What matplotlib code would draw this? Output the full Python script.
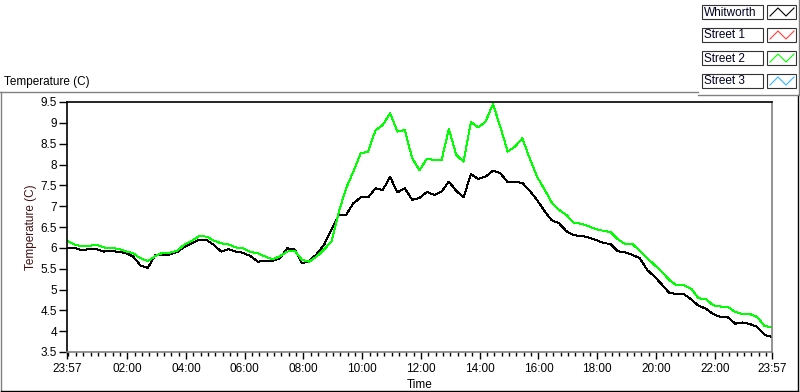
import numpy as np
import matplotlib
matplotlib.use('Agg')
import matplotlib.pyplot as plt
from matplotlib.lines import Line2D
from matplotlib.patches import Rectangle
from matplotlib.ticker import FormatStrFormatter

# temperatures (C), one reading every 15 minutes starting at 23:57
whitworth = [6.00, 6.00, 5.94, 5.97, 5.97, 5.91, 5.93, 5.90, 5.88, 5.79,
             5.58, 5.52, 5.82, 5.83, 5.84, 5.90, 6.02, 6.11, 6.20, 6.19,
             6.07, 5.91, 5.97, 5.91, 5.88, 5.80, 5.67, 5.68, 5.69, 5.75,
             5.99, 5.96, 5.63, 5.68, 5.85, 6.07, 6.44, 6.79, 6.79, 7.07,
             7.21, 7.21, 7.43, 7.39, 7.70, 7.33, 7.43, 7.15, 7.20, 7.34,
             7.27, 7.35, 7.59, 7.37, 7.21, 7.77, 7.65, 7.71, 7.85, 7.79,
             7.58, 7.58, 7.56, 7.37, 7.15, 6.89, 6.66, 6.59, 6.40, 6.30,
             6.29, 6.25, 6.19, 6.12, 6.09, 5.92, 5.89, 5.83, 5.75, 5.47,
             5.31, 5.12, 4.92, 4.89, 4.89, 4.76, 4.61, 4.54, 4.41, 4.34,
             4.33, 4.18, 4.21, 4.17, 4.10, 3.91, 3.86]
street_2 = [6.17, 6.08, 6.04, 6.04, 6.08, 6.01, 5.99, 5.98, 5.92, 5.87,
            5.75, 5.68, 5.80, 5.88, 5.88, 5.93, 6.08, 6.17, 6.28, 6.27,
            6.17, 6.11, 6.08, 6.01, 5.99, 5.90, 5.87, 5.79, 5.72, 5.80,
            5.91, 5.93, 5.71, 5.67, 5.79, 5.96, 6.15, 6.85, 7.43, 7.83,
            8.27, 8.31, 8.82, 8.95, 9.23, 8.79, 8.83, 8.15, 7.86, 8.14,
            8.11, 8.10, 8.85, 8.23, 8.07, 9.02, 8.89, 9.03, 9.45, 8.91,
            8.31, 8.43, 8.63, 8.15, 7.71, 7.41, 7.09, 6.91, 6.79, 6.60,
            6.58, 6.52, 6.45, 6.41, 6.38, 6.21, 6.09, 6.09, 5.93, 5.75,
            5.59, 5.43, 5.23, 5.10, 5.10, 5.02, 4.79, 4.77, 4.62, 4.59,
            4.58, 4.46, 4.41, 4.41, 4.34, 4.12, 4.10]

series_names = ['Whitworth', 'Street 1', 'Street 2', 'Street 3']
series_colors = ['#000000', '#ff3c3c', '#00ff00', '#33b8ff']

tick_hours = [-0.05, 2, 4, 6, 8, 10, 12, 14, 16, 18, 20, 22, 23.95]
tick_labels = ['23:57', '02:00', '04:00', '06:00', '08:00', '10:00', '12:00',
               '14:00', '16:00', '18:00', '20:00', '22:00', '23:57']
y_ticks = [3.5, 4, 4.5, 5, 5.5, 6, 6.5, 7, 7.5, 8, 8.5, 9, 9.5]

plt.rcParams['font.family'] = ['Liberation Sans', 'DejaVu Sans']

W, H = 800, 392
def fx(px):
    return px / W
def fy(py):
    return 1 - py / H

fig = plt.figure(figsize=(8, 3.92), dpi=100)
fig.patch.set_facecolor('white')

ax = fig.add_axes([fx(67), fy(352), (772 - 67) / W, (352 - 102) / H])
hours = -0.05 + 0.25 * np.arange(len(whitworth))
ax.plot(hours, whitworth, color=series_colors[0], lw=0.7, antialiased=False)
ax.plot(hours, street_2, color=series_colors[2], lw=0.7, antialiased=False)

ax.set_xlim(-0.05, 23.95)
ax.set_ylim(3.5, 9.5)
ax.set_xticks(tick_hours)
ax.set_xticklabels(tick_labels)
ax.set_xticks(np.arange(0, 24, 0.25), minor=True)
ax.set_yticks(y_ticks)
ax.yaxis.set_major_formatter(FormatStrFormatter('%g'))
ax.tick_params(axis='x', which='major', length=5, width=1, pad=3, labelsize=8.5)
ax.tick_params(axis='x', which='minor', length=3, width=1)
ax.tick_params(axis='y', which='major', length=6, width=1, pad=1, labelsize=8.5)

for side in ['top', 'left']:
    ax.spines[side].set_color('black')
for side in ['bottom', 'right']:
    ax.spines[side].set_color('#808080')
for sp in ax.spines.values():
    sp.set_linewidth(1.2)

ax.set_xlabel('Time', fontsize=8.5, labelpad=3)
ax.set_ylabel('Temperature (C)', fontsize=8.5, color='#401010', labelpad=3)

# outer graph frame
def fline(xs, ys, color):
    fig.add_artist(Line2D([fx(v) for v in xs], [fy(v) for v in ys],
                          transform=fig.transFigure, color=color, lw=1.0))

fline([0, 698], [92, 92], '#808080')
fline([1, 1], [92, 391], '#808080')
fline([1, 798], [391, 391], 'black')
fline([798, 798], [95, 391], 'black')
fline([698, 799], [95, 95], '#808080')
fline([799, 799], [0, 95], '#808080')

fig.text(fx(4), fy(82), 'Temperature (C)', fontsize=8.5, ha='left', va='center')

# plot legend
for k, name in enumerate(series_names):
    top = 5 + 23 * k
    fig.add_artist(Rectangle((fx(702), fy(top + 14)), 61 / W, 14 / H,
                             transform=fig.transFigure, fill=False,
                             edgecolor='#333333', lw=0.8))
    fig.text(fx(704), fy(top + 7.5), name, fontsize=8.5, ha='left', va='center',
             color='#000020')
    fig.add_artist(Rectangle((fx(767), fy(top + 14)), 29 / W, 14 / H,
                             transform=fig.transFigure, fill=False,
                             edgecolor='#333333', lw=0.8))
    zx = [770, 778, 786, 794]
    zy = [top + 11, top + 3, top + 11, top + 3]
    fig.add_artist(Line2D([fx(v) for v in zx], [fy(v) for v in zy],
                          transform=fig.transFigure, color=series_colors[k],
                          lw=0.8))

fig.savefig('out.png', dpi=100, facecolor='white')
